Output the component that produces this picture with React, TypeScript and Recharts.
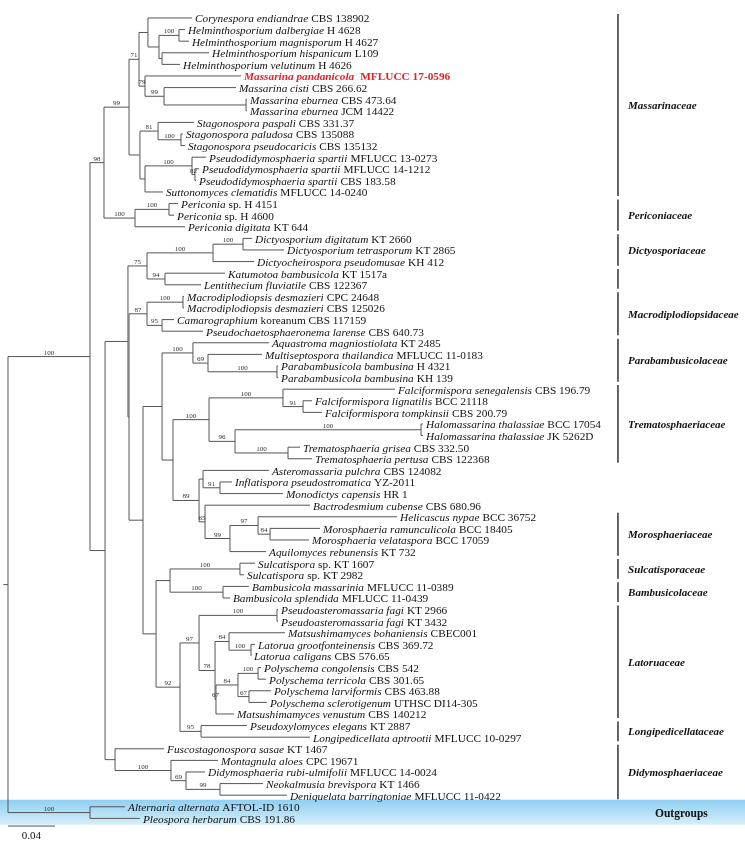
import React from 'react';
import {
  ScatterChart,
  Scatter,
  XAxis,
  YAxis,
  ReferenceLine,
  ReferenceArea,
} from 'recharts';

const SERIF = '"Liberation Serif", "Times New Roman", Times, serif';

// tips, top to bottom (italic part, plain part)
const tipNames = [
  'Corynespora endiandrae', 'Helminthosporium dalbergiae', 'Helminthosporium magnisporum',
  'Helminthosporium hispanicum', 'Helminthosporium velutinum', 'Massarina pandanicola',
  'Massarina cisti', 'Massarina eburnea', 'Massarina eburnea', 'Stagonospora paspali',
  'Stagonospora paludosa', 'Stagonospora pseudocaricis', 'Pseudodidymosphaeria spartii',
  'Pseudodidymosphaeria spartii', 'Pseudodidymosphaeria spartii', 'Suttonomyces clematidis',
  'Periconia', 'Periconia', 'Periconia digitata', 'Dictyosporium digitatum',
  'Dictyosporium tetrasporum', 'Dictyocheirospora pseudomusae', 'Katumotoa bambusicola',
  'Lentithecium fluviatile', 'Macrodiplodiopsis desmazieri', 'Macrodiplodiopsis desmazieri',
  'Camarographium', 'Pseudochaetosphaeronema larense', 'Aquastroma magniostiolata',
  'Multiseptospora thailandica', 'Parabambusicola bambusina', 'Parabambusicola bambusina',
  'Falciformispora senegalensis', 'Falciformispora lignatilis', 'Falciformispora tompkinsii',
  'Halomassarina thalassiae', 'Halomassarina thalassiae', 'Trematosphaeria grisea',
  'Trematosphaeria pertusa', 'Asteromassaria pulchra', 'Inflatispora pseudostromatica',
  'Monodictys capensis', 'Bactrodesmium cubense', 'Helicascus nypae',
  'Morosphaeria ramunculicola', 'Morosphaeria velataspora', 'Aquilomyces rebunensis',
  'Sulcatispora', 'Sulcatispora', 'Bambusicola massarinia', 'Bambusicola splendida',
  'Pseudoasteromassaria fagi', 'Pseudoasteromassaria fagi', 'Matsushimamyces bohaniensis',
  'Latorua grootfonteinensis', 'Latorua caligans', 'Polyschema congolensis',
  'Polyschema terricola', 'Polyschema larviformis', 'Polyschema sclerotigenum',
  'Matsushimamyces venustum', 'Pseudoxylomyces elegans', 'Longipedicellata aptrootii',
  'Fuscostagonospora sasae', 'Montagnula aloes', 'Didymosphaeria rubi-ulmifolii',
  'Neokalmusia brevispora', 'Deniquelata barringtoniae', 'Alternaria alternata',
  'Pleospora herbarum',
];

const tipStrains = [
  'CBS 138902', 'H 4628', 'H 4627', 'L109', 'H 4626', 'MFLUCC 17-0596', 'CBS 266.62',
  'CBS 473.64', 'JCM 14422', 'CBS 331.37', 'CBS 135088', 'CBS 135132', 'MFLUCC 13-0273',
  'MFLUCC 14-1212', 'CBS 183.58', 'MFLUCC 14-0240', 'sp. H 4151', 'sp. H 4600', 'KT 644',
  'KT 2660', 'KT 2865', 'KH 412', 'KT 1517a', 'CBS 122367', 'CPC 24648', 'CBS 125026',
  'koreanum CBS 117159', 'CBS 640.73', 'KT 2485', 'MFLUCC 11-0183', 'H 4321', 'KH 139',
  'CBS 196.79', 'BCC 21118', 'CBS 200.79', 'BCC 17054', 'JK 5262D', 'CBS 332.50',
  'CBS 122368', 'CBS 124082', 'YZ-2011', 'HR 1', 'CBS 680.96', 'BCC 36752', 'BCC 18405',
  'BCC 17059', 'KT 732', 'sp. KT 1607', 'sp. KT 2982', 'MFLUCC 11-0389', 'MFLUCC 11-0439',
  'KT 2966', 'KT 3432', 'CBEC001', 'CBS 369.72', 'CBS 576.65', 'CBS 542', 'CBS 301.65',
  'CBS 463.88', 'UTHSC DI14-305', 'CBS 140212', 'KT 2887', 'MFLUCC 10-0297', 'KT 1467',
  'CPC 19671', 'MFLUCC 14-0024', 'KT 1466', 'MFLUCC 11-0422', 'AFTOL-ID 1610', 'CBS 191.86',
];

const tipParents = [
  'A', 'H1', 'H1', 'H2', 'H2', 'N79', 'N99a', 'E', 'E', 'N81', 'S100', 'S100', 'Ps100',
  'N82', 'N82', 'P', 'Per2', 'Per2', 'Per', 'Dp', 'Dp', 'Dd', 'N94', 'N94', 'M100', 'M100',
  'N95', 'N95', 'P100', 'P69', 'Pb', 'Pb', 'F100', 'F91', 'F91', 'Hm', 'Hm', 'Tr100',
  'Tr100', 'Ast', 'N91', 'N91', 'N65', 'N97M', 'N84M', 'N84M', 'N99M', 'Sc', 'Sc', 'Bb',
  'Bb', 'Pa', 'Pa', 'N84L', 'L100', 'L100', 'Py100', 'Py100', 'N67b', 'N67b', 'N67',
  'N95L', 'N95L', 'D', 'D100', 'D69', 'D99', 'D99', 'Out', 'Out',
];

// distance from root (substitutions per site) at each tip
const tipDepths = [
  0.1566, 0.1506, 0.154, 0.1711, 0.1464, 0.1983, 0.194, 0.2034, 0.2034, 0.1583,
  0.1489, 0.1506, 0.1685, 0.1626, 0.16, 0.1319, 0.1447, 0.1413, 0.1506, 0.2077,
  0.2349, 0.2094, 0.1847, 0.1643, 0.1498, 0.1498, 0.1413, 0.166, 0.2221, 0.2162,
  0.2298, 0.2298, 0.3293, 0.2587, 0.2672, 0.3532, 0.3532, 0.2485, 0.2587, 0.2221,
  0.1906, 0.234, 0.257, 0.3311, 0.2655, 0.2562, 0.2196, 0.2102, 0.2009, 0.2051,
  0.1889, 0.2298, 0.2298, 0.2357, 0.2102, 0.2068, 0.2153, 0.2196, 0.2238, 0.2204,
  0.1923, 0.2034, 0.257, 0.1328, 0.1787, 0.1677, 0.217, 0.2374, 0.0996, 0.1123,
];

// internal nodes
const nodeIds = [
  'root', 'Out', 'R1', 'N98', 'N99', 'N71', 'A', 'H', 'H1', 'H2', 'N79', 'N99a', 'E', 'X',
  'N81', 'S100', 'P', 'Ps100', 'N82', 'Per', 'Per2', 'R2', 'R3', 'N75', 'Dd', 'Dp', 'N94',
  'R4', 'N87', 'M100', 'N95', 'R5', 'Q', 'P100', 'P69', 'Pb', 'T', 'TR', 'F100', 'F91',
  'N96', 'Hm', 'Tr100', 'N89', 'Ast', 'N91', 'N65', 'N99M', 'N97M', 'N84M', 'S', 'Sb',
  'Sc', 'Bb', 'N92', 'N97L', 'Pa', 'N78', 'N84L', 'L100', 'N67', 'N84P', 'Py100', 'N67b',
  'N95L', 'D', 'D100', 'D69', 'D99',
];

const nodeParents = [
  '', 'root', 'root', 'R1', 'N98', 'N99', 'N71', 'A', 'H', 'H', 'N71', 'N79', 'N99a', 'N99',
  'X', 'N81', 'X', 'P', 'Ps100', 'N98', 'Per', 'R1', 'R2', 'R3', 'N75', 'Dd', 'N75',
  'R3', 'R4', 'N87', 'N87', 'R4', 'R5', 'Q', 'P100', 'P69', 'Q', 'T', 'TR', 'F100',
  'TR', 'N96', 'N96', 'T', 'N89', 'Ast', 'N89', 'N65', 'N99M', 'N97M', 'R5', 'S',
  'Sb', 'Sb', 'S', 'N92', 'N97L', 'N97L', 'N78', 'N84L', 'N78', 'N67', 'N84P', 'N84P',
  'N92', 'R2', 'D', 'D100', 'D69',
];

const nodeDepths = [
  0, 0.0698, 0.0698, 0.0817, 0.103, 0.1115, 0.1191, 0.1285, 0.1455, 0.1311, 0.1166,
  0.1328, 0.2026, 0.1123, 0.1277, 0.1472, 0.1166, 0.1566, 0.1591, 0.1081, 0.137,
  0.0826, 0.1021, 0.1183, 0.1745, 0.2, 0.1336, 0.103, 0.1183, 0.1489, 0.1311,
  0.1149, 0.1311, 0.1574, 0.1702, 0.2289, 0.1404, 0.1711, 0.234, 0.2511, 0.1932,
  0.3515, 0.2383, 0.1626, 0.166, 0.1804, 0.1677, 0.1889, 0.2128, 0.223, 0.126,
  0.1379, 0.1974, 0.183, 0.1464, 0.1626, 0.2289, 0.1762, 0.1881, 0.2068, 0.177,
  0.1957, 0.2128, 0.2051, 0.1643, 0.0911, 0.1387, 0.1515, 0.1804,
];

// bootstrap support (0 = not shown)
const nodeSupport = [
  0, 100, 100, 98, 99, 71, 0, 0, 100, 0, 79, 99, 0, 0, 81, 100, 0, 100, 82, 100, 100,
  0, 0, 75, 100, 100, 94, 0, 87, 100, 95, 0, 0, 100, 69, 100, 0, 100, 100, 91, 96,
  100, 100, 89, 0, 91, 65, 99, 97, 84, 0, 0, 100, 100, 92, 97, 100, 78, 84, 100, 67,
  84, 100, 67, 95, 0, 100, 69, 99,
];

const familyNames = [
  'Massarinaceae', 'Periconiaceae', 'Dictyosporiaceae', '', 'Macrodiplodiopsidaceae',
  'Parabambusicolaceae', 'Trematosphaeriaceae', 'Morosphaeriaceae', 'Sulcatisporaceae',
  'Bambusicolaceae', 'Latoruaceae', 'Longipedicellataceae', 'Didymosphaeriaceae',
];
const familyFirst = [0, 16, 19, 22, 24, 28, 32, 43, 47, 49, 51, 61, 63];
const familyLast = [15, 18, 21, 23, 27, 31, 38, 46, 48, 50, 60, 62, 67];

const outgroupName = 'Outgroups';
const outgroupTips = [68, 69];
const highlightTip = 5;
const scaleBarLength = 0.04;
const scaleBarText = '0.04';

// ---- layout: axis domains and tree geometry ----
const X_DOMAIN: [number, number] = [-0.0068, 0.6272];
const Y_DOMAIN: [number, number] = [-1.55, 70.95];
const FAMILY_BAR_X = 0.5191;
const FAMILY_TEXT_X = 0.5277;
const OUTGROUP_TEXT_X = 0.5506;

const depthOf: Record<string, number> = {};
const parentOf: Record<string, string> = {};
nodeIds.forEach((id, i) => {
  depthOf[id] = nodeDepths[i];
  parentOf[id] = nodeParents[i];
});

const yOf: Record<string, number> = {};
const span: Record<string, [number, number]> = {};

// node sits halfway between its outermost children
const solveY = (id: string): number => {
  if (yOf[id] !== undefined) return yOf[id];
  const ys: number[] = [];
  tipParents.forEach((p, i) => {
    if (p === id) ys.push(i);
  });
  nodeIds.forEach((n, i) => {
    if (nodeParents[i] === id) ys.push(solveY(n));
  });
  const lo = Math.min(...ys);
  const hi = Math.max(...ys);
  span[id] = [lo, hi];
  yOf[id] = (lo + hi) / 2;
  return yOf[id];
};
solveY('root');

type Seg = { x1: number; y1: number; x2: number; y2: number };
const segments: Seg[] = [];
tipDepths.forEach((d, i) => {
  segments.push({ x1: depthOf[tipParents[i]], y1: i, x2: d, y2: i });
});
nodeIds.forEach((id) => {
  const [lo, hi] = span[id];
  segments.push({ x1: depthOf[id], y1: lo, x2: depthOf[id], y2: hi });
  if (parentOf[id]) {
    segments.push({ x1: depthOf[parentOf[id]], y1: yOf[id], x2: depthOf[id], y2: yOf[id] });
  } else {
    segments.push({ x1: -0.004, y1: yOf[id], x2: 0, y2: yOf[id] });
  }
});

const tipPoints = tipNames.map((name, i) => ({
  x: tipDepths[i],
  y: i,
  name,
  strain: tipStrains[i],
  highlight: i === highlightTip,
}));

const supportPoints = nodeIds
  .map((id, i) => ({ id, s: nodeSupport[i] }))
  .filter((n) => n.s > 0 && parentOf[n.id])
  .map((n) => ({
    x: (depthOf[parentOf[n.id]] + depthOf[n.id]) / 2,
    y: yOf[n.id],
    label: String(n.s),
  }));

const familyPoints = familyNames.map((name, i) => ({
  x: FAMILY_TEXT_X,
  y: (familyFirst[i] + familyLast[i]) / 2,
  name,
}));

const ogFirst = Math.min(...outgroupTips);
const ogLast = Math.max(...outgroupTips);
const scaleY = ogLast + 0.66;

const TipLabel = (props: any) => {
  const { cx, cy, payload } = props;
  const hl = payload.highlight;
  return (
    <text
      x={cx + 3}
      y={cy + 4.5}
      fontFamily={SERIF}
      fontSize={11.3}
      fill={hl ? '#ee1d23' : '#111'}
      fontWeight={hl ? 'bold' : 'normal'}
    >
      <tspan fontStyle="italic">{payload.name}</tspan>
      <tspan dx={hl ? 6 : 3}>{payload.strain}</tspan>
    </text>
  );
};

const SupportLabel = (props: any) => {
  const { cx, cy, payload } = props;
  return (
    <text x={cx} y={cy - 2} textAnchor="middle" fontFamily={SERIF} fontSize={7} fill="#333">
      {payload.label}
    </text>
  );
};

const FamilyLabel = (props: any) => {
  const { cx, cy, payload } = props;
  return (
    <text
      x={cx}
      y={cy + 4}
      fontFamily={SERIF}
      fontSize={11}
      fontWeight="bold"
      fontStyle="italic"
      fill="#111"
    >
      {payload.name}
    </text>
  );
};

const PlainLabel = (props: any) => {
  const { cx, cy, payload } = props;
  return (
    <text
      x={cx}
      y={cy + payload.dy}
      textAnchor={payload.anchor}
      fontFamily={SERIF}
      fontSize={payload.size}
      fontWeight={payload.bold ? 'bold' : 'normal'}
      fill="#111"
    >
      {payload.text}
    </text>
  );
};

const App: React.FC = () => {
  const plainPoints = [
    { x: OUTGROUP_TEXT_X, y: (ogFirst + ogLast) / 2, text: outgroupName, size: 11.5, bold: true, anchor: 'start', dy: 4 },
    { x: scaleBarLength / 2, y: scaleY, text: scaleBarText, size: 11, bold: false, anchor: 'middle', dy: 13 },
  ];

  return (
    <div style={{ position: 'absolute', left: 0, top: 0, background: '#fff', willChange: 'transform' }}>
      <ScatterChart width={745} height={841} margin={{ top: 0, right: 0, bottom: 0, left: 0 }}>
        <defs>
          <linearGradient id="ogBand" x1="0" y1="0" x2="0" y2="1">
            <stop offset="0%" stopColor="#8fd0f2" />
            <stop offset="100%" stopColor="#d6eefa" />
          </linearGradient>
        </defs>
        <XAxis type="number" dataKey="x" domain={X_DOMAIN} allowDataOverflow hide />
        <YAxis type="number" dataKey="y" domain={Y_DOMAIN} allowDataOverflow reversed hide />

        <ReferenceArea
          x1={X_DOMAIN[0]}
          x2={X_DOMAIN[1]}
          y1={ogFirst - 0.6}
          y2={ogLast + 0.55}
          fill="url(#ogBand)"
          fillOpacity={1}
          stroke="none"
          ifOverflow="visible"
        />

        {segments.map((s, i) => (
          <ReferenceLine
            key={`b${i}`}
            segment={[{ x: s.x1, y: s.y1 }, { x: s.x2, y: s.y2 }]}
            stroke="#555"
            strokeWidth={1}
            ifOverflow="visible"
          />
        ))}

        {familyNames.map((_, i) => (
          <ReferenceLine
            key={`f${i}`}
            segment={[
              { x: FAMILY_BAR_X, y: familyFirst[i] - 0.35 },
              { x: FAMILY_BAR_X, y: familyLast[i] + 0.35 },
            ]}
            stroke="#333"
            strokeWidth={1.5}
            ifOverflow="visible"
          />
        ))}

        <ReferenceLine
          segment={[{ x: 0, y: scaleY }, { x: scaleBarLength, y: scaleY }]}
          stroke="#555"
          strokeWidth={1}
          ifOverflow="visible"
        />

        <Scatter data={tipPoints} shape={(p: any) => <TipLabel {...p} />} isAnimationActive={false} />
        <Scatter data={supportPoints} shape={(p: any) => <SupportLabel {...p} />} isAnimationActive={false} />
        <Scatter data={familyPoints} shape={(p: any) => <FamilyLabel {...p} />} isAnimationActive={false} />
        <Scatter data={plainPoints} shape={(p: any) => <PlainLabel {...p} />} isAnimationActive={false} />
      </ScatterChart>
    </div>
  );
};

export default App;
